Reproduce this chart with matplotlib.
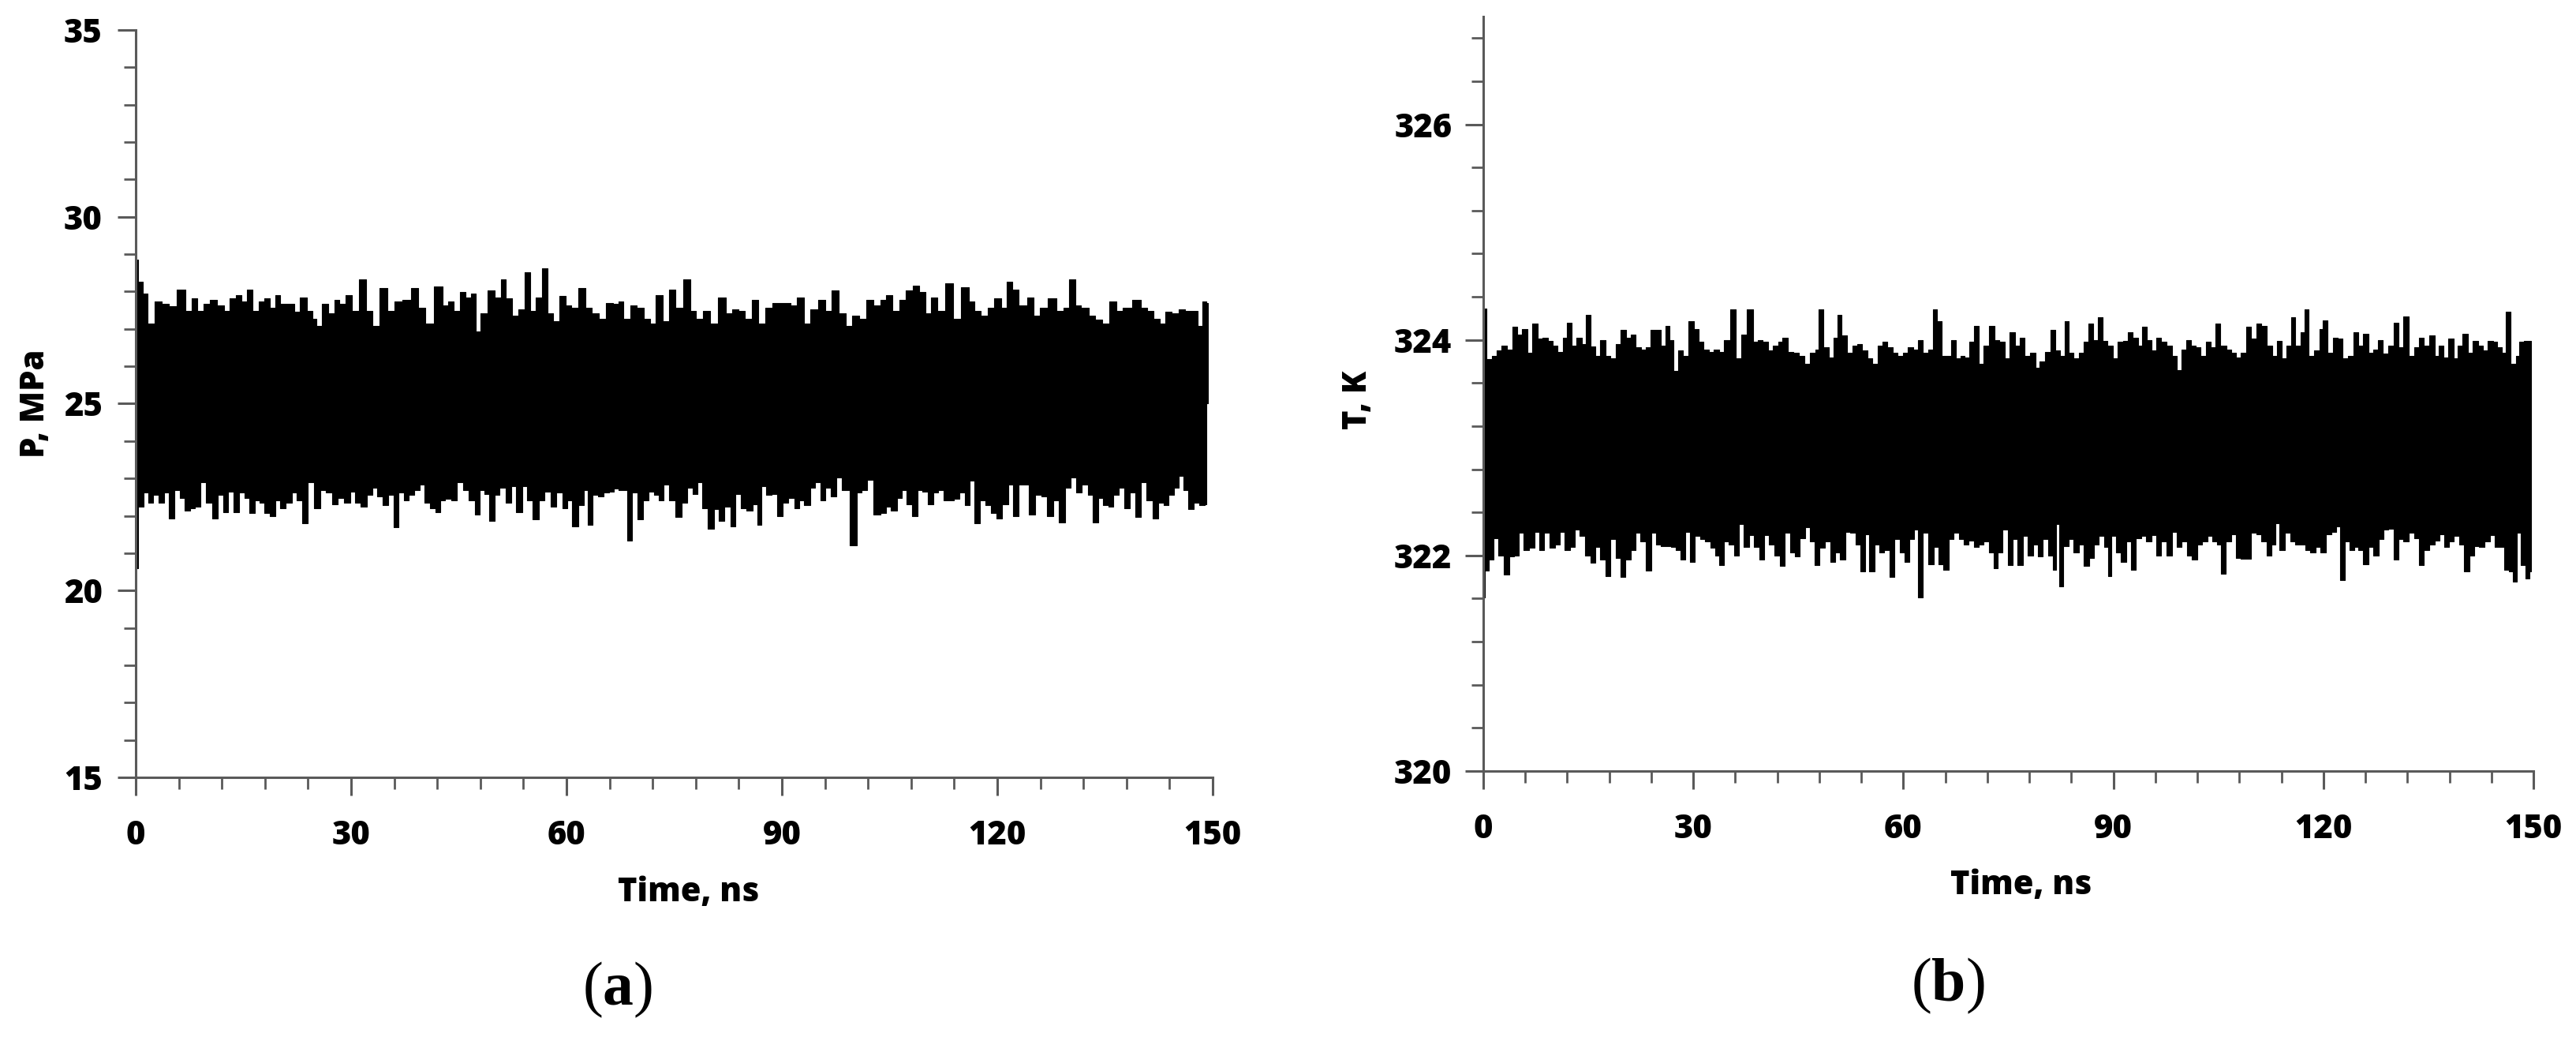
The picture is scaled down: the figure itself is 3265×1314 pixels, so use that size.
import matplotlib
matplotlib.use("Agg")
import matplotlib.pyplot as plt
import numpy as np
from matplotlib.ticker import MultipleLocator

# envelopes: (time in ns, value)
# (a) pressure, MPa
p_upper = [(0.0, 28.86), (0.7, 28.26), (1.2, 27.95), (2.1, 27.14), (3.1, 27.74), (4.1, 27.67), (5.0, 27.60),
           (6.5, 28.05), (7.4, 27.49), (8.2, 27.81), (8.9, 27.49), (9.9, 27.67), (10.8, 27.77), (11.8, 27.63),
           (12.8, 27.49), (13.4, 27.81), (14.4, 27.91), (15.0, 27.74), (15.9, 28.05), (16.6, 27.49), (17.6, 27.74),
           (18.3, 27.81), (19.1, 27.56), (19.8, 27.91), (20.5, 27.67), (21.7, 27.67), (22.4, 27.46), (23.4, 27.84),
           (24.2, 27.49), (24.9, 27.28), (25.5, 27.07), (26.3, 27.67), (27.3, 27.42), (28.0, 27.77), (28.7, 27.67),
           (29.7, 27.91), (30.5, 27.49), (31.6, 28.33), (32.6, 27.49), (33.3, 27.07), (34.5, 28.09), (35.5, 27.49),
           (36.5, 27.74), (37.7, 27.77), (38.9, 28.09), (39.8, 27.56), (40.8, 27.14), (42.3, 28.14), (43.2, 27.63),
           (43.9, 27.74), (44.7, 27.49), (45.6, 27.98), (46.3, 27.84), (47.1, 27.95), (47.6, 26.93), (48.5, 27.42),
           (49.5, 28.02), (50.5, 27.84), (51.2, 28.33), (51.9, 27.81), (52.9, 27.35), (53.7, 27.53), (54.6, 28.51),
           (55.3, 27.49), (56.1, 27.84), (57.0, 28.63), (57.7, 27.42), (58.5, 27.21), (59.4, 27.88), (60.3, 27.63),
           (61.1, 27.56), (62.1, 28.09), (63.1, 27.56), (64.0, 27.42), (65.0, 27.28), (66.0, 27.70), (66.9, 27.67),
           (67.5, 27.74), (68.4, 27.28), (69.3, 27.63), (70.3, 27.56), (71.3, 27.28), (72.0, 27.14), (72.9, 27.91),
           (73.9, 27.21), (74.7, 28.05), (75.6, 27.56), (76.9, 28.33), (77.6, 27.49), (78.5, 27.28), (79.5, 27.49),
           (80.5, 27.14), (81.7, 27.84), (82.6, 27.42), (83.6, 27.53), (84.3, 27.49), (85.3, 27.28), (86.3, 27.77),
           (87.2, 27.14), (88.2, 27.56), (89.2, 27.70), (90.1, 27.70), (90.9, 27.70), (91.6, 27.63), (92.6, 27.84),
           (93.5, 27.14), (94.5, 27.53), (95.6, 27.77), (96.4, 27.49), (97.4, 28.02), (98.4, 27.42), (99.3, 27.07),
           (100.3, 27.35), (101.3, 27.28), (102.2, 27.77), (103.2, 27.63), (104.2, 27.77), (104.9, 27.91),
           (105.9, 27.49), (106.9, 27.77), (107.7, 28.02), (108.7, 28.16), (109.5, 27.98), (110.4, 27.42),
           (111.1, 27.84), (112.2, 27.49), (113.3, 28.23), (114.3, 27.28), (115.6, 28.12), (116.4, 27.74),
           (117.2, 27.49), (118.2, 27.35), (119.1, 27.56), (120.1, 27.81), (120.9, 27.56), (121.7, 28.26),
           (122.5, 28.05), (123.5, 27.63), (124.8, 27.84), (125.4, 27.35), (126.4, 27.56), (127.7, 27.81),
           (128.8, 27.49), (129.6, 27.56), (130.5, 28.33), (131.2, 27.63), (132.2, 27.56), (133.2, 27.35),
           (134.1, 27.25), (135.1, 27.14), (136.1, 27.74), (137.0, 27.49), (138.0, 27.56), (139.5, 27.77),
           (140.4, 27.56), (141.4, 27.49), (142.2, 27.28), (143.1, 27.14), (143.8, 27.46), (144.8, 27.42),
           (145.7, 27.53), (146.7, 27.49), (147.7, 27.49), (148.2, 27.07), (148.9, 27.74), (149.3, 27.70)]

p_lower = [(0.0, 20.60), (0.7, 22.24), (1.4, 22.62), (2.1, 22.34), (2.8, 22.55), (3.6, 22.34), (4.3, 22.62),
           (5.0, 21.93), (5.8, 22.69), (6.5, 22.48), (7.2, 22.14), (7.9, 22.21), (8.6, 22.24), (9.4, 22.90),
           (10.2, 22.34), (11.0, 21.93), (11.8, 22.55), (12.5, 22.10), (13.2, 22.65), (14.0, 22.10), (14.7, 22.62),
           (15.5, 22.48), (16.2, 22.07), (16.9, 22.41), (17.6, 22.34), (18.3, 22.07), (19.1, 22.00), (19.7, 22.41),
           (20.5, 22.21), (21.3, 22.34), (22.1, 22.62), (22.7, 22.41), (23.6, 21.79), (24.4, 22.90), (25.3, 22.21),
           (26.1, 22.69), (26.8, 22.62), (27.8, 22.31), (28.5, 22.48), (29.5, 22.34), (30.2, 22.65), (30.9, 22.34),
           (31.8, 22.24), (32.6, 22.55), (33.3, 22.76), (34.0, 22.52), (34.8, 22.28), (35.5, 22.55), (36.3, 21.69),
           (36.9, 22.62), (37.7, 22.41), (38.4, 22.55), (39.2, 22.69), (39.8, 22.83), (40.6, 22.34), (41.4, 22.21),
           (42.1, 22.10), (42.7, 22.41), (43.5, 22.45), (44.3, 22.41), (45.2, 22.90), (45.9, 22.69), (46.8, 22.41),
           (47.6, 22.03), (48.3, 22.69), (48.9, 22.59), (49.6, 21.86), (50.3, 22.55), (51.1, 22.76), (51.9, 22.34),
           (52.6, 22.79), (53.4, 22.10), (54.2, 22.79), (54.8, 22.41), (55.8, 21.90), (56.5, 22.41), (57.3, 22.65),
           (58.2, 22.24), (59.0, 22.62), (59.8, 22.21), (60.4, 22.41), (61.2, 21.72), (62.1, 22.28), (62.7, 22.69),
           (63.3, 21.76), (64.0, 22.55), (64.8, 22.52), (65.6, 22.62), (66.2, 22.65), (66.9, 22.72), (67.6, 22.69),
           (68.1, 22.69), (68.8, 21.34), (69.5, 22.62), (70.2, 21.90), (71.0, 22.41), (71.8, 22.65), (72.5, 22.55),
           (73.2, 22.41), (73.9, 22.83), (74.7, 22.41), (75.6, 21.97), (76.4, 22.34), (77.2, 22.76), (77.9, 22.59),
           (78.5, 22.90), (79.3, 22.21), (80.1, 21.66), (80.9, 22.17), (81.6, 21.86), (82.4, 22.24), (83.2, 21.72),
           (83.9, 22.59), (84.7, 22.21), (85.5, 22.14), (86.3, 22.31), (86.8, 21.76), (87.4, 22.79), (88.2, 22.55),
           (89.0, 22.59), (89.7, 22.00), (90.5, 22.34), (91.3, 22.48), (92.1, 22.21), (92.7, 22.41), (93.5, 22.28),
           (94.3, 22.76), (95.0, 22.90), (95.7, 22.41), (96.4, 22.76), (97.2, 22.52), (98.0, 23.03), (98.8, 22.69),
           (100.0, 21.21), (100.8, 22.62), (101.5, 22.69), (102.2, 22.97), (103.3, 22.03), (104.2, 22.07),
           (104.8, 22.24), (105.6, 22.14), (106.4, 22.48), (107.1, 22.69), (107.7, 22.31), (108.5, 22.00),
           (109.2, 22.69), (110.0, 22.65), (110.7, 22.31), (111.4, 22.62), (112.2, 22.69), (112.9, 22.41),
           (113.6, 22.41), (114.3, 22.45), (115.1, 22.62), (115.8, 22.28), (116.4, 22.93), (117.2, 21.79),
           (118.0, 22.41), (118.8, 22.28), (119.4, 22.07), (120.3, 21.93), (121.1, 22.31), (121.9, 22.83),
           (122.6, 22.00), (123.4, 22.83), (124.0, 22.83), (124.9, 22.03), (125.7, 22.55), (126.5, 22.52),
           (127.4, 22.00), (128.1, 22.41), (129.0, 21.83), (129.8, 22.76), (130.6, 23.03), (131.3, 22.62),
           (132.2, 22.83), (133.0, 22.55), (133.7, 21.83), (134.4, 22.48), (135.1, 22.28), (135.8, 22.24),
           (136.6, 22.55), (137.3, 22.76), (138.1, 22.21), (138.8, 22.62), (139.7, 21.97), (140.4, 22.90),
           (141.2, 22.41), (142.0, 21.93), (142.8, 22.34), (143.5, 22.28), (144.3, 22.55), (145.0, 22.76),
           (145.6, 23.07), (146.2, 22.69), (147.0, 22.17), (147.7, 22.34), (148.6, 22.28), (149.1, 22.31)]

# (b) temperature, K
t_upper = [(0.0, 324.29), (0.9, 323.82), (1.6, 323.85), (2.3, 323.90), (3.0, 323.95), (3.8, 323.91), (4.5, 324.12),
           (5.2, 324.05), (5.9, 324.10), (6.7, 323.88), (7.4, 324.15), (8.1, 324.01), (8.8, 324.02), (9.6, 323.99),
           (10.3, 323.95), (11.0, 323.89), (11.7, 324.02), (12.3, 324.16), (13.0, 323.95), (13.7, 324.02),
           (14.4, 323.96), (14.9, 324.23), (15.7, 323.94), (16.3, 323.85), (17.1, 324.00), (17.8, 323.85),
           (18.6, 323.83), (19.2, 323.96), (20.0, 324.09), (20.7, 324.02), (21.5, 324.05), (22.1, 323.93),
           (22.9, 323.91), (23.6, 323.93), (24.3, 324.09), (25.0, 324.09), (25.7, 323.95), (26.3, 324.13),
           (26.9, 324.00), (27.5, 323.71), (28.1, 323.90), (28.9, 323.85), (29.7, 324.17), (30.4, 324.10),
           (31.1, 323.98), (31.8, 323.91), (32.6, 323.89), (33.3, 323.91), (34.0, 323.89), (34.8, 324.00),
           (35.7, 324.28), (36.4, 323.83), (37.3, 324.05), (38.1, 324.28), (38.9, 323.98), (39.5, 324.00),
           (40.3, 323.98), (41.0, 323.90), (41.8, 323.95), (42.4, 323.98), (43.1, 324.02), (43.9, 323.89),
           (44.7, 323.88), (45.4, 323.85), (46.3, 323.78), (47.1, 323.88), (47.7, 323.91), (48.2, 324.28),
           (49.0, 323.93), (49.7, 323.84), (50.4, 324.02), (50.8, 324.23), (51.6, 324.04), (52.4, 323.88),
           (53.1, 323.95), (53.8, 323.96), (54.5, 323.90), (55.2, 323.83), (55.9, 323.78), (56.7, 323.95),
           (57.4, 323.98), (58.1, 323.93), (58.9, 323.88), (59.5, 323.85), (60.3, 323.88), (61.0, 323.93),
           (61.8, 323.91), (62.4, 324.00), (63.2, 323.88), (63.9, 323.91), (64.5, 324.28), (65.1, 324.17),
           (65.9, 323.85), (66.6, 323.85), (67.1, 324.00), (67.8, 323.83), (68.5, 323.85), (69.0, 323.84),
           (69.8, 323.98), (70.5, 324.13), (71.1, 323.78), (71.9, 323.95), (72.6, 324.13), (73.4, 324.00),
           (74.1, 323.98), (74.8, 323.83), (75.6, 324.07), (76.3, 323.95), (77.0, 324.02), (77.7, 323.85),
           (78.5, 323.88), (79.2, 323.74), (79.8, 323.80), (80.6, 323.89), (81.4, 324.09), (82.1, 323.90),
           (82.7, 323.85), (83.3, 324.17), (84.0, 323.88), (84.7, 323.83), (85.4, 323.88), (86.1, 323.98),
           (86.8, 324.15), (87.4, 324.00), (88.1, 324.21), (88.8, 323.99), (89.5, 323.95), (90.3, 323.83),
           (91.0, 323.98), (91.7, 323.99), (92.4, 324.07), (93.2, 324.02), (93.9, 323.95), (94.4, 324.12),
           (95.1, 324.00), (95.8, 323.90), (96.5, 324.02), (97.2, 323.98), (98.0, 323.95), (98.8, 323.85),
           (99.4, 323.72), (100.1, 323.91), (100.7, 324.00), (101.4, 323.95), (102.1, 323.93), (102.8, 323.85),
           (103.6, 323.98), (104.3, 323.93), (104.9, 324.15), (105.7, 323.95), (106.5, 323.91), (107.2, 323.88),
           (107.8, 323.84), (108.6, 323.88), (109.3, 324.12), (110.1, 324.01), (110.7, 324.15), (111.5, 324.13),
           (112.3, 323.95), (113.0, 323.85), (113.7, 323.99), (114.4, 323.83), (115.1, 323.95), (115.7, 324.21),
           (116.3, 323.95), (117.1, 324.07), (117.5, 324.28), (118.3, 323.85), (119.1, 323.90), (119.7, 324.10),
           (120.2, 324.18), (121.0, 323.88), (121.7, 324.02), (122.3, 324.01), (123.1, 323.83), (123.9, 323.85),
           (124.7, 324.07), (125.3, 323.95), (126.0, 324.06), (126.8, 323.88), (127.5, 323.91), (128.1, 324.00),
           (128.9, 323.87), (129.7, 323.95), (130.4, 324.16), (131.0, 323.93), (131.8, 324.22), (132.6, 323.85),
           (133.3, 323.93), (133.9, 324.02), (134.7, 323.95), (135.5, 324.04), (136.2, 323.85), (136.8, 323.95),
           (137.4, 323.84), (138.2, 324.01), (138.9, 323.83), (139.5, 323.95), (140.3, 324.06), (141.0, 323.88),
           (141.7, 323.99), (142.4, 323.95), (143.1, 323.90), (143.9, 323.99), (144.6, 323.98), (145.1, 323.93),
           (145.8, 323.88), (146.3, 324.26), (147.1, 323.78), (147.8, 323.85), (148.2, 323.98), (149.0, 323.99),
           (149.6, 323.99)]

t_lower = [(0.0, 321.61), (0.4, 321.86), (1.1, 321.96), (1.9, 322.16), (2.5, 322.00), (3.3, 321.82), (4.1, 321.99),
           (4.8, 322.00), (5.4, 322.21), (6.2, 322.05), (7.0, 322.07), (7.7, 322.22), (8.3, 322.05), (9.1, 322.21),
           (9.9, 322.07), (10.6, 322.10), (11.2, 322.22), (12.0, 322.05), (12.7, 322.08), (13.5, 322.24),
           (14.1, 322.18), (14.9, 322.00), (15.7, 321.93), (16.3, 322.08), (17.1, 321.96), (17.8, 321.81),
           (18.6, 322.15), (19.3, 321.98), (19.9, 321.80), (20.7, 321.96), (21.5, 322.05), (22.1, 322.21),
           (22.8, 322.13), (23.6, 321.86), (24.4, 322.21), (25.0, 322.10), (25.7, 322.09), (26.5, 322.09),
           (27.2, 322.08), (27.9, 322.05), (28.4, 321.96), (29.2, 322.22), (29.9, 321.94), (30.6, 322.18),
           (31.3, 322.15), (32.1, 322.13), (32.8, 322.07), (33.4, 322.00), (34.0, 321.91), (34.7, 322.13),
           (35.5, 322.10), (36.1, 322.00), (36.9, 322.29), (37.6, 322.08), (38.3, 322.19), (39.1, 322.08),
           (39.7, 321.96), (40.5, 322.19), (41.2, 322.10), (42.0, 322.00), (42.7, 321.90), (43.4, 322.21),
           (44.2, 322.03), (44.9, 321.99), (45.6, 322.16), (46.3, 322.26), (47.0, 322.13), (47.7, 321.91),
           (48.4, 322.07), (49.2, 322.13), (49.9, 321.94), (50.6, 322.03), (51.3, 321.96), (52.1, 322.22),
           (52.8, 322.21), (53.5, 322.10), (54.2, 321.85), (54.8, 322.20), (55.5, 321.85), (56.3, 322.10),
           (56.9, 322.03), (57.7, 322.05), (58.4, 321.80), (59.1, 322.15), (59.8, 322.03), (60.5, 321.94),
           (61.3, 322.15), (61.8, 322.24), (62.4, 321.61), (63.2, 322.21), (63.9, 321.92), (64.7, 322.08),
           (65.3, 321.92), (66.1, 321.87), (66.8, 322.15), (67.6, 322.21), (68.2, 322.15), (69.0, 322.10),
           (69.7, 322.14), (70.4, 322.08), (71.1, 322.10), (71.9, 322.13), (72.6, 322.03), (73.2, 321.88),
           (73.8, 322.03), (74.5, 322.24), (75.3, 321.91), (75.9, 322.15), (76.7, 321.91), (77.4, 322.18),
           (78.2, 322.00), (78.9, 322.10), (79.6, 321.99), (80.3, 322.15), (81.1, 322.00), (81.6, 321.87),
           (82.1, 322.29), (82.5, 321.71), (83.2, 322.09), (84.0, 322.15), (84.7, 322.03), (85.4, 322.10),
           (86.1, 321.90), (86.9, 321.98), (87.6, 322.10), (88.3, 322.18), (89.1, 322.08), (89.3, 321.81),
           (90.1, 322.18), (90.7, 322.03), (91.4, 321.94), (92.2, 322.13), (92.8, 321.87), (93.6, 322.16),
           (94.3, 322.18), (95.1, 322.13), (95.8, 322.19), (96.5, 322.00), (97.2, 322.13), (98.0, 322.00),
           (98.8, 322.22), (99.4, 322.08), (100.1, 322.13), (100.9, 322.00), (101.6, 321.96), (102.3, 322.10),
           (103.0, 322.13), (103.8, 322.18), (104.5, 322.13), (105.0, 322.10), (105.7, 321.83), (106.4, 322.13),
           (107.2, 322.20), (107.8, 321.98), (108.6, 321.97), (109.3, 321.97), (110.1, 322.21), (110.7, 322.20),
           (111.5, 322.13), (112.2, 322.00), (112.9, 322.10), (113.4, 322.30), (114.1, 322.05), (114.9, 322.21),
           (115.7, 322.13), (116.3, 322.10), (117.1, 322.10), (117.8, 322.05), (118.5, 322.03), (119.2, 322.08),
           (119.9, 322.03), (120.7, 322.20), (121.5, 322.22), (122.1, 322.27), (122.7, 321.77), (123.4, 322.13),
           (124.1, 322.05), (124.7, 322.08), (125.3, 322.05), (126.0, 321.92), (126.8, 322.08), (127.5, 322.00),
           (128.2, 322.15), (128.9, 322.24), (129.7, 322.25), (130.4, 321.96), (131.0, 322.15), (131.8, 322.13),
           (132.6, 322.21), (133.3, 322.16), (134.0, 321.91), (134.7, 322.05), (135.5, 322.10), (136.2, 322.14),
           (136.9, 322.20), (137.6, 322.08), (138.3, 322.13), (139.0, 322.18), (139.7, 322.10), (140.5, 321.85),
           (141.2, 322.00), (141.9, 322.09), (142.6, 322.08), (143.4, 322.13), (144.1, 322.19), (144.8, 322.08),
           (145.5, 322.08), (146.1, 321.87), (146.8, 321.85), (147.3, 321.76), (147.9, 322.21), (148.5, 321.91),
           (149.2, 321.79), (149.6, 321.85)]

x_label = "Time, ns"
y_labels = ["P, MPa", "T, K"]
panel_tags = [r"$\mathrm{(}\mathbf{a}\mathrm{)}$", r"$\mathrm{(}\mathbf{b}\mathrm{)}$"]

plt.rcParams["font.family"] = ["Open Sans", "DejaVu Sans"]
plt.rcParams["font.weight"] = "heavy"
plt.rcParams["axes.labelweight"] = "heavy"
plt.rcParams["mathtext.fontset"] = "custom"
plt.rcParams["mathtext.rm"] = "Liberation Serif:weight=normal"
plt.rcParams["mathtext.bf"] = "Liberation Serif:weight=bold"

AXIS_GRAY = "#5a5a5a"


def draw_band(ax, upper, lower):
    tu, vu = np.array(upper).T
    tl, vl = np.array(lower).T
    mid = (vu.mean() + vl.mean()) / 2
    ax.fill_between(tu, mid, vu, step="mid", facecolor="black", edgecolor="black", lw=0.8)
    ax.fill_between(tl, vl, mid, step="mid", facecolor="black", edgecolor="black", lw=0.8)


def style_axes(ax, ylim, ymajor, yminor, ylabel, ypad, xlab_pos, ylab_pos):
    ax.set_xlim(0, 150)
    ax.set_ylim(*ylim)
    ax.xaxis.set_major_locator(MultipleLocator(30))
    ax.xaxis.set_minor_locator(MultipleLocator(6))
    ax.yaxis.set_major_locator(MultipleLocator(ymajor))
    ax.yaxis.set_minor_locator(MultipleLocator(yminor))
    for side in ["top", "right"]:
        ax.spines[side].set_visible(False)
    for side in ["left", "bottom"]:
        ax.spines[side].set_color(AXIS_GRAY)
        ax.spines[side].set_linewidth(2.2)
        ax.spines[side].set_zorder(3)
    ax.tick_params(which="major", direction="out", length=16.5, width=2.2,
                   color=AXIS_GRAY, labelsize=30, labelcolor="black")
    ax.tick_params(which="minor", direction="out", length=11, width=2.0, color=AXIS_GRAY)
    ax.tick_params(axis="x", which="major", pad=22)
    ax.tick_params(axis="y", which="major", pad=ypad)

    ax.set_xlabel(x_label, fontsize=30, fontweight="heavy", va="baseline")
    ax.xaxis.set_label_coords(*xlab_pos)
    ax.set_ylabel(ylabel, fontsize=30, fontweight="heavy", va="center")
    ax.yaxis.set_label_coords(*ylab_pos)


fig = plt.figure(figsize=(32.66, 13.14), dpi=100)
ax_a = fig.add_axes([0.0527, 0.2504, 0.4179, 0.7207])
ax_b = fig.add_axes([0.5756, 0.2565, 0.4076, 0.7275])

draw_band(ax_a, p_upper, p_lower)
draw_band(ax_b, t_upper, t_lower)

style_axes(ax_a, (15, 35), 5, 1, y_labels[0], 14, (0.513, -0.166), (-0.093, 0.5))
style_axes(ax_b, (320, 327), 2, 0.4, y_labels[1], 12, (0.512, -0.163), (-0.119, 0.492))

fig.text(0.2397, 0.0464, panel_tags[0], fontsize=56, ha="center", va="center")
fig.text(0.7560, 0.0502, panel_tags[1], fontsize=56, ha="center", va="center")

fig.savefig("out.png", dpi=100, facecolor="white")
